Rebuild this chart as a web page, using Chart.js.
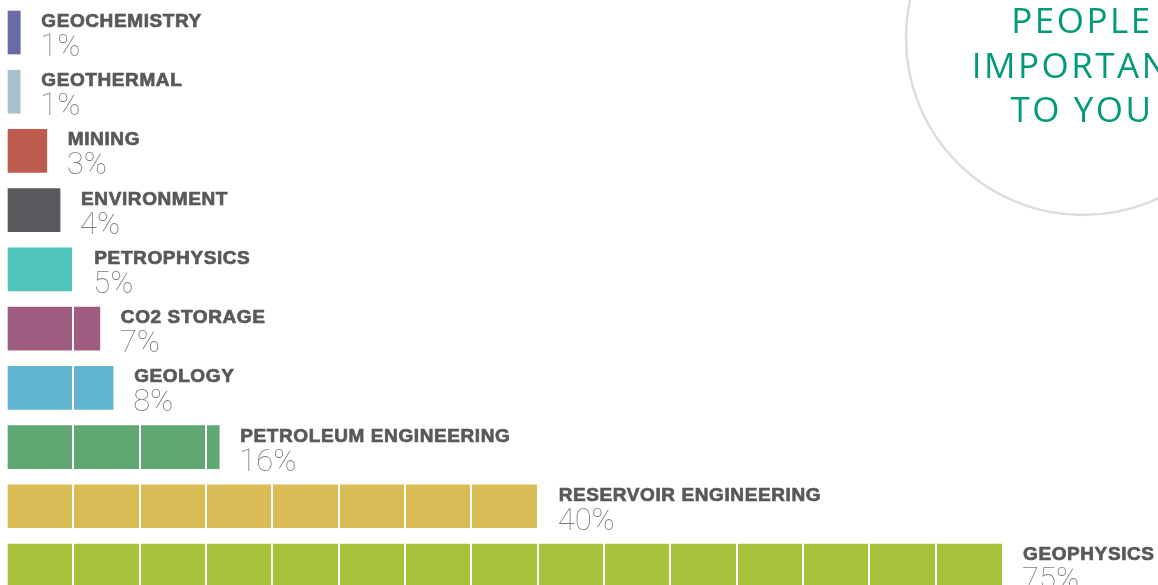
<!DOCTYPE html>
<html>
<head>
<meta charset="utf-8">
<script src="https://cdn.jsdelivr.net/npm/chart.js@4"></script>
<style>
  html, body { margin: 0; padding: 0; background: #ffffff; overflow: hidden; }
  #wrap { position: relative; width: 1158px; height: 600px; }
</style>
</head>
<body>
<div id="wrap"><canvas id="c" width="1158" height="600"></canvas></div>
<script>
const categories = ["GEOCHEMISTRY", "GEOTHERMAL", "MINING", "ENVIRONMENT", "PETROPHYSICS", "CO2 STORAGE", "GEOLOGY", "PETROLEUM ENGINEERING", "RESERVOIR ENGINEERING", "GEOPHYSICS"];
const values = [1, 1, 3, 4, 5, 7, 8, 16, 40, 75];
const percentLabels = ["1%", "1%", "3%", "4%", "5%", "7%", "8%", "16%", "40%", "75%"];
const barColors = ["#6b69a8", "#aac0cb", "#be5b4f", "#59585d", "#4ec4bb", "#9d5c80", "#62b5d1", "#5fa773", "#d9bc55", "#a8c13a"];
const circleTitle = ["PEOPLE", "IMPORTANT", "TO YOU"];

const labelPlugin = {
  id: 'barLabels',
  afterDraw(chart) {
    const ctx = chart.ctx;
    const meta = chart.getDatasetMeta(0);
    ctx.save();
    ctx.textAlign = 'left';
    ctx.textBaseline = 'alphabetic';
    meta.data.forEach((bar, i) => {
      const top = bar.y - bar.height / 2;
      const bottom = bar.y + bar.height / 2;
      const x = bar.x + 21;
      ctx.fillStyle = '#58595b';
      ctx.strokeStyle = '#58595b';
      ctx.lineWidth = 0.7;
      ctx.font = 'bold 19px "Liberation Sans", Arial, sans-serif';
      ctx.letterSpacing = '0.6px';
      ctx.fillText(categories[i], x, top + 16);
      ctx.strokeText(categories[i], x, top + 16);
      ctx.fillStyle = '#7c7c7c';
      ctx.font = '100 31px Roboto, "Open Sans", sans-serif';
      ctx.letterSpacing = '0px';
      ctx.fillText(percentLabels[i], x - 1, bottom + 2);
    });
    // circle decoration
    ctx.beginPath();
    ctx.arc(1083, 38, 177, 0, Math.PI * 2);
    ctx.lineWidth = 2.5;
    ctx.strokeStyle = '#dddddd';
    ctx.stroke();
    ctx.fillStyle = '#039a78';
    ctx.font = '35px "Open Sans", sans-serif';
    ctx.letterSpacing = '2.5px';
    ctx.textAlign = 'center';
    circleTitle.forEach((t, k) => {
      ctx.fillText(t, 1082, 33 + k * 44.5);
    });
    ctx.restore();
  }
};

new Chart(document.getElementById('c'), {
  type: 'bar',
  data: {
    labels: categories,
    datasets: [{
      data: values,
      backgroundColor: barColors,
      borderWidth: 0,
      barThickness: 43
    }]
  },
  options: {
    indexAxis: 'y',
    responsive: false,
    animation: false,
    maintainAspectRatio: false,
    layout: { padding: { left: 7, right: 156, top: 2.9, bottom: 4.9 } },
    plugins: { legend: { display: false }, tooltip: { enabled: false } },
    scales: {
      x: {
        min: 0, max: 75,
        display: true,
        border: { display: false },
        ticks: { display: false, stepSize: 5 },
        grid: {
          z: 1,
          drawTicks: false,
          lineWidth: 2,
          color: (c) => (c.tick && (c.tick.value === 0 || c.tick.value === 75)) ? 'rgba(0,0,0,0)' : '#ffffff'
        }
      },
      y: { display: false }
    }
  },
  plugins: [labelPlugin]
});
</script>
</body>
</html>
